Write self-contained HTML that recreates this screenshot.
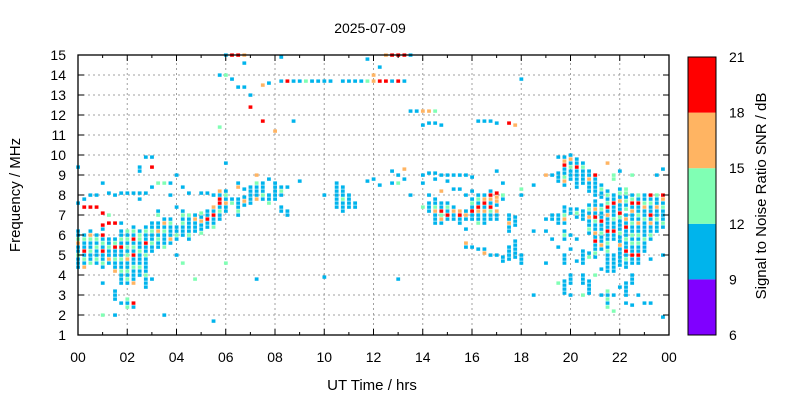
<!DOCTYPE html>
<html><head><meta charset="utf-8"><style>
body{margin:0;background:#fff;}
svg{display:block;font-family:"Liberation Sans",sans-serif;}
</style></head><body>
<svg id="chart" width="800" height="400" viewBox="0 0 800 400" xmlns="http://www.w3.org/2000/svg">
<rect width="800" height="400" fill="#fff"/>
<text x="370" y="33" font-size="14" text-anchor="middle">2025-07-09</text>
<g id="grid"></g>
<g id="cells"></g>
<rect x="78" y="55" width="591" height="280" fill="none" stroke="#000" stroke-width="1.3"/>
<g id="axes"></g>
<text x="372" y="390" font-size="15" text-anchor="middle">UT Time / hrs</text>
<text transform="translate(20,195) rotate(-90)" font-size="15" text-anchor="middle">Frequency / MHz</text>
<g id="cbar"></g>
<text transform="translate(766,196) rotate(-90)" font-size="15" text-anchor="middle">Signal to Noise Ratio SNR / dB</text>
</svg>
<script>
const xTicks=["00","02","04","06","08","10","12","14","16","18","20","22","00"];
const yTicks=[1,2,3,4,5,6,7,8,9,10,11,12,13,14,15];
const cbTicks=[6,9,12,15,18,21];
const cbColors=["#8000ff","#00b4ec","#80ffb4","#ffb462","#ff0000"];
const snrCode={b:10.5,g:13.5,o:16.5,r:19.5};
// runs: [hour, top frequency MHz, SNR codes per 0.2 MHz going down]
const runs=[
[0,6.2,"bbgobbgbbb"],[0,7.6,"b"],[0,9.4,"b"],
[0.25,7.4,"r"],[0.25,7.8,"b"],[0.25,6.0,"bgbbrbgbo"],
[0.5,7.4,"r"],[0.5,8.0,"b"],[0.5,6.2,"bogbbgbbg"],
[0.75,7.4,"r"],[0.75,8.0,"b"],[0.75,6.0,"bgbgbbgb"],
[1,7.1,"r"],[1,6.5,"rb"],[1,6.0,"rbgbrbbgb"],[1,3.6,"b"],[1,2.0,"g"],[1,8.6,"b"],
[1.25,6.6,"r"],[1.25,7.0,"g"],[1.25,5.8,"bbgbbob"],[1.25,8.1,"b"],
[1.5,6.6,"r"],[1.5,5.8,"bgrbbgbbo"],[1.5,3.2,"bbb"],[1.5,2.0,"b"],[1.5,8.0,"b"],
[1.75,6.6,"b"],[1.75,6.2,"bbgbrbbgbbgbbb"],[1.75,2.6,"b"],[1.75,8.1,"b"],
[2,6.2,"gbgbgbgobbgbgb"],[2,2.8,"gbg"],[2,8.1,"b"],
[2.25,6.4,"bgbrbgbrbbgbbbo"],[2.25,2.6,"rb"],[2.25,8.1,"b"],
[2.5,6.2,"bggbbgbbbgbb"],[2.5,7.8,"b"],[2.5,9.4,"bb"],[2.5,8.1,"b"],
[2.75,6.4,"bgbbrbbgbbbbgbbb"],[2.75,9.9,"b"],[2.75,8.1,"b"],
[3,6.6,"bbgbbgbb"],[3,8.4,"b"],[3,3.8,"b"],[3,9.4,"r"],[3,9.9,"b"],
[3.25,7.2,"bg"],[3.25,6.6,"bbobgbb"],[3.25,8.6,"g"],
[3.5,6.8,"bobgbbbg"],[3.5,8.6,"g"],[3.5,2.0,"b"],
[3.75,6.8,"bgbbbob"],[3.75,8.0,"b"],[3.75,8.6,"b"],
[4,6.4,"bbgb"],[4,5.0,"b"],[4,7.4,"b"],[4,9.0,"b"],
[4.25,7.2,"bgbgbbb"],[4.25,4.6,"g"],[4.25,8.4,"b"],
[4.5,7.0,"gbbbbgb"],[4.5,8.1,"b"],
[4.75,7.0,"bobbb"],[4.75,3.8,"g"],
[5,7.1,"gbobbg"],[5,8.1,"b"],
[5.25,7.2,"bbrbb"],[5.25,8.1,"b"],
[5.5,7.4,"obrbbg"],[5.5,8.0,"b"],[5.5,1.7,"b"],
[5.75,7.8,"rrbgbb"],[5.75,8.2,"ob"],[5.75,14.0,"b"],[5.75,11.4,"g"],
[6,8.2,"bgbobb"],[6,9.6,"b"],[6,4.6,"g"],[6,15,"b"],[6,14.0,"g"],
[6.25,7.8,"bg"],[6.25,15,"r"],[6.25,13.8,"b"],
[6.5,8.6,"bo"],[6.5,7.8,"bbbgb"],[6.5,15,"r"],[6.5,13.4,"b"],
[6.75,8.3,"b"],[6.75,7.9,"bob"],[6.75,15,"o"],[6.75,13.4,"b"],[6.75,14.6,"b"],
[7,8.4,"bbbbb"],[7,12.4,"r"],[7,13.0,"b"],
[7.25,9.0,"o"],[7.25,8.6,"gbbbo"],[7.25,3.8,"b"],
[7.5,8.6,"bbbgb"],[7.5,11.7,"r"],[7.5,13.5,"o"],
[7.75,8.0,"bbg"],[7.75,8.8,"b"],[7.75,13.6,"b"],
[8,8.6,"bbbbb"],[8,11.2,"o"],
[8.25,8.4,"bgb"],[8.25,7.4,"bb"],[8.25,13.7,"b"],[8.25,14.9,"b"],
[8.5,13.7,"r"],[8.5,7.2,"bb"],[8.5,8.4,"b"],
[8.75,13.7,"b"],[8.75,11.7,"b"],
[9,13.7,"b"],[9,8.7,"b"],[9.25,13.7,"g"],[9.5,13.7,"b"],[9.75,13.7,"b"],
[10,13.7,"b"],[10,3.9,"b"],[10,8.0,"b"],[10.25,13.7,"b"],
[10.5,8.6,"bbbbbbb"],[10.75,8.4,"bbbgbbb"],[10.75,13.7,"b"],
[11,8.0,"bbbb"],[11,13.7,"b"],[11.25,7.6,"bb"],[11.25,13.7,"b"],[11.5,13.7,"b"],
[11.75,8.7,"b"],[11.75,14.8,"b"],[11.75,13.7,"g"],
[12,13.7,"o"],[12,14.0,"o"],[12,8.8,"b"],
[12.25,13.7,"r"],[12.25,8.5,"b"],[12.25,14.4,"b"],
[12.5,13.7,"r"],[12.5,15,"o"],
[12.75,13.7,"b"],[12.75,15,"r"],[12.75,9.2,"b"],[12.75,8.6,"b"],
[13,13.7,"r"],[13,15,"r"],[13,9.0,"b"],[13,8.6,"g"],[13,3.8,"b"],
[13.25,13.7,"b"],[13.25,15,"r"],[13.25,9.3,"o"],[13.25,8.8,"b"],
[13.5,15,"b"],[13.5,12.2,"b"],[13.5,8.0,"b"],
[13.75,12.2,"b"],
[14,12.2,"o"],[14,11.5,"b"],[14,9.0,"b"],[14,8.6,"b"],[14,7.4,"g"],
[14.25,12.2,"o"],[14.25,11.6,"b"],[14.25,9.1,"b"],[14.25,8.0,"b"],[14.25,7.6,"bbb"],
[14.5,12.2,"g"],[14.5,11.6,"b"],[14.5,9.1,"b"],[14.5,8.8,"b"],[14.5,7.8,"bbgobbb"],
[14.75,11.5,"b"],[14.75,9.0,"b"],[14.75,8.2,"o"],[14.75,7.6,"bbrgob"],
[15,9.0,"b"],[15,8.7,"b"],[15,7.6,"bgbrb"],
[15.25,9.0,"b"],[15.25,8.3,"b"],[15.25,7.4,"bobb"],
[15.5,9.0,"b"],[15.5,8.3,"b"],[15.5,7.2,"orbb"],
[15.75,9.0,"b"],[15.75,8.0,"b"],[15.75,7.2,"bob"],[15.75,6.3,"b"],[15.75,5.6,"ob"],
[16,8.9,"b"],[16,8.2,"b"],[16,7.8,"bgbrbb"],[16,5.4,"b"],
[16.25,8.0,"b"],[16.25,7.8,"gbrobbg"],[16.25,5.3,"b"],[16.25,11.7,"b"],
[16.5,8.0,"borbobbb"],[16.5,5.1,"o"],[16.5,5.3,"b"],[16.5,11.7,"b"],
[16.75,8.2,"brobrgbb"],[16.75,5.0,"b"],[16.75,11.7,"b"],
[17,8.1,"roob"],[17,7.2,"obb"],[17,5.0,"b"],[17,9.2,"b"],[17,11.6,"b"],
[17.25,8.0,"gb"],[17.25,8.6,"b"],[17.25,4.9,"bb"],
[17.5,7.0,"bbob"],[17.5,6.2,"b"],[17.5,5.4,"bbbb"],[17.5,11.6,"r"],
[17.75,6.9,"bbb"],[17.75,5.7,"bbbbb"],[17.75,11.5,"o"],
[18,8.3,"g"],[18,8.0,"b"],[18,5.0,"bbb"],[18,13.8,"b"],
[18.5,8.5,"b"],[18.5,6.2,"b"],[18.5,3.0,"b"],
[19,9.0,"o"],[19,6.8,"b"],[19,6.2,"b"],[19,4.6,"b"],
[19.25,7.0,"bb"],[19.25,5.8,"b"],[19.25,9.0,"b"],
[19.5,9.9,"b"],[19.5,9.1,"bbb"],[19.5,7.0,"bbb"],[19.5,3.6,"g"],[19.5,5.4,"b"],
[19.75,9.9,"borbbgob"],[19.75,7.4,"bbgob"],[19.75,6.2,"bgb"],[19.75,5.0,"bbb"],[19.75,3.7,"bbbb"],
[20,10.0,"bobgbbb"],[20,7.3,"bb"],[20,6.0,"b"],[20,5.3,"b"],[20,4.0,"bbb"],[20,3.0,"b"],
[20.25,9.8,"bbrbbbbb"],[20.25,7.3,"bgb"],[20.25,5.8,"b"],[20.25,4.7,"b"],
[20.5,9.6,"bgbbbb"],[20.5,7.2,"bbb"],[20.5,5.2,"bbbb"],[20.5,4.0,"bbb"],[20.5,3.0,"g"],
[20.75,9.2,"bbobbb"],[20.75,7.5,"bgbobbgb"],[20.75,5.1,"bg"],[20.75,3.7,"bbbb"],
[21,9.0,"rbbbbb"],[21,7.7,"bbobrgbbobrbbgb"],[21,4.0,"g"],
[21.25,8.5,"bgbb"],[21.25,7.5,"bgbbrbbgbbob"],[21.25,4.3,"b"],[21.25,3.0,"b"],
[21.5,9.6,"o"],[21.5,8.2,"bgbgrbobbbrbbgbgbbbbb"],[21.5,3.2,"gbgbg"],
[21.75,9.0,"gg"],[21.75,8.0,"bbrbbbgbbrbb"],[21.75,5.0,"bbbbb"],[21.75,3.0,"b"],[21.75,2.2,"g"],
[22,9.2,"b"],[22,8.3,"bgbobbrgbbbgbbobbbbb"],[22,3.4,"b"],
[22.25,8.3,"ggbgbg"],[22.25,7.0,"bobrbbgbbrbgbb"],[22.25,3.6,"bbbb"],[22.25,2.6,"b"],
[22.5,9.0,"g"],[22.5,8.0,"bgrbobbgbbgbgbbrbb"],[22.5,4.0,"bbb"],[22.5,2.5,"b"],
[22.75,8.0,"gbrbbgbobbgbgbbrbb"],[22.75,3.0,"b"],
[23,8.0,"bbgobbgbbbbgbbb"],[23,2.6,"b"],
[23.25,8.0,"rbgbbrbobbgb"],[23.25,4.8,"b"],[23.25,2.6,"b"],
[23.5,8.0,"gbbobbgbbb"],[23.5,9.0,"b"],
[23.75,8.0,"robgbbbgb"],[23.75,5.0,"b"],[23.75,1.9,"b"],[23.75,9.3,"b"]
];
const NS="http://www.w3.org/2000/svg";
const X0=78,X1=669,Y0=335,Y1=55;
const xs=h=>X0+h*(X1-X0)/24;
const ys=f=>Y0-(f-1)*(Y0-Y1)/14;
const cbY=v=>335-(v-6)*(335-57)/15;
function mk(tag,attrs,parent){const e=document.createElementNS(NS,tag);for(const k in attrs)e.setAttribute(k,attrs[k]);parent.appendChild(e);return e;}
function colorOf(s){const i=Math.floor((s-6)/3);return cbColors[Math.max(0,Math.min(4,i))];}
const grid=document.getElementById('grid'),axes=document.getElementById('axes'),cells=document.getElementById('cells'),cbar=document.getElementById('cbar');
xTicks.forEach((t,i)=>{const x=xs(i*2);
 if(i>0&&i<xTicks.length-1){const l=mk('line',{x1:x,x2:x,y1:Y0,y2:Y1,stroke:'#a0a0a0','stroke-dasharray':'2,3'},grid);
 
 }
 mk('line',{x1:x,x2:x,y1:Y0,y2:Y0-6,stroke:'#000'},axes);
 mk('line',{x1:x,x2:x,y1:Y1,y2:Y1+6,stroke:'#000'},axes);
 const tx=mk('text',{x:x,y:362,'font-size':14,'text-anchor':'middle'},axes);tx.textContent=t;
 
 
 if(i<xTicks.length-1){const xm=xs(i*2+1);mk('line',{x1:xm,x2:xm,y1:Y0,y2:Y0-3,stroke:'#000'},axes);mk('line',{x1:xm,x2:xm,y1:Y1,y2:Y1+3,stroke:'#000'},axes);}
});
yTicks.forEach(f=>{const y=ys(f);
 if(f>1&&f<15){const l=mk('line',{x1:X0,x2:X1,y1:y,y2:y,stroke:'#a0a0a0','stroke-dasharray':'2,3'},grid);
 
 }
 mk('line',{x1:X0,x2:X0+6,y1:y,y2:y,stroke:'#000'},axes);
 mk('line',{x1:X1,x2:X1-6,y1:y,y2:y,stroke:'#000'},axes);
 const tx=mk('text',{x:66,y:y+5,'font-size':14,'text-anchor':'end'},axes);tx.textContent=f;
 
 
});
runs.forEach(r=>{const h=r[0],top=r[1],p=r[2];
 for(let k=0;k<p.length;k++){const c=p[k];if(!snrCode[c])continue;const f=top-0.2*k;
  const e=mk('rect',{x:xs(h)-1.8,y:ys(f)-1.6,width:3.8,height:3.4,fill:colorOf(snrCode[c])},cells);
  
  }
});
for(let i=0;i<cbColors.length;i++){const e=mk('rect',{x:688,y:cbY(cbTicks[i+1]),width:28,height:cbY(cbTicks[i])-cbY(cbTicks[i+1]),fill:cbColors[i]},cbar);
 
 }
mk('rect',{x:688,y:57,width:28,height:278,fill:'none',stroke:'#000'},cbar);
cbTicks.forEach(v=>{const tx=mk('text',{x:729,y:cbY(v)+5,'font-size':14},cbar);tx.textContent=v;
 
 });
</script>
</body></html>
